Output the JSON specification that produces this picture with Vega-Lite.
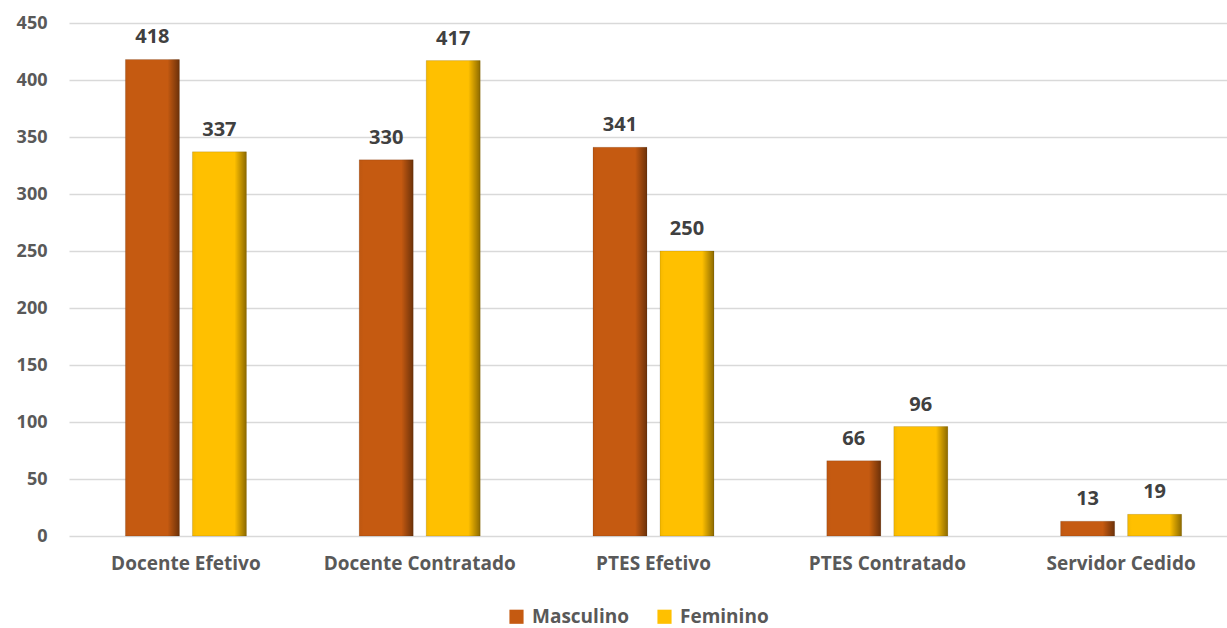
{
  "$schema": "https://vega.github.io/schema/vega-lite/v6.json",
  "width": 1169,
  "height": 513,
  "autosize": {"type": "none"},
  "padding": {"left": 69, "top": 23, "right": 0, "bottom": 92},
  "background": "white",
  "config": {
    "font": "Open Sans",
    "view": {"stroke": null}
  },
  "data": {
    "values": [
      {"cat": "Docente Efetivo", "sexo": "Masculino", "valor": 418},
      {"cat": "Docente Efetivo", "sexo": "Feminino", "valor": 337},
      {"cat": "Docente Contratado", "sexo": "Masculino", "valor": 330},
      {"cat": "Docente Contratado", "sexo": "Feminino", "valor": 417},
      {"cat": "PTES Efetivo", "sexo": "Masculino", "valor": 341},
      {"cat": "PTES Efetivo", "sexo": "Feminino", "valor": 250},
      {"cat": "PTES  Contratado", "sexo": "Masculino", "valor": 66},
      {"cat": "PTES  Contratado", "sexo": "Feminino", "valor": 96},
      {"cat": "Servidor Cedido", "sexo": "Masculino", "valor": 13},
      {"cat": "Servidor Cedido", "sexo": "Feminino", "valor": 19}
    ]
  },
  "encoding": {
    "x": {
      "field": "cat",
      "type": "nominal",
      "sort": ["Docente Efetivo", "Docente Contratado", "PTES Efetivo", "PTES  Contratado", "Servidor Cedido"],
      "scale": {"paddingInner": 0.4824, "paddingOuter": 0.2412},
      "axis": {
        "title": null,
        "labelAngle": 0,
        "labelFont": "Open Sans",
        "labelFontSize": 19,
        "labelFontWeight": "bold",
        "labelColor": "#595959",
        "labelPadding": 18,
        "labelLimit": 0,
        "ticks": false,
        "domain": false,
        "grid": false
      }
    },
    "xOffset": {
      "field": "sexo",
      "type": "nominal",
      "sort": ["Masculino", "Feminino"],
      "scale": {"paddingInner": 0.194, "paddingOuter": 0}
    },
    "y": {
      "field": "valor",
      "type": "quantitative",
      "scale": {"domain": [0, 450], "nice": false},
      "axis": {
        "title": null,
        "values": [0, 50, 100, 150, 200, 250, 300, 350, 400, 450],
        "labelFont": "Open Sans",
        "labelFontSize": 18,
        "labelFontWeight": "bold",
        "labelColor": "#595959",
        "labelPadding": 22,
        "ticks": false,
        "domain": false,
        "grid": true,
        "gridColor": "#D9D9D9",
        "gridWidth": 1.5
      }
    }
  },
  "layer": [
    {
      "mark": {"type": "bar"},
      "encoding": {
        "color": {
          "field": "sexo",
          "type": "nominal",
          "sort": ["Masculino", "Feminino"],
          "scale": {"domain": ["Masculino", "Feminino"], "range": ["#C55A11", "#FFC000"]},
          "legend": {
            "title": null,
            "orient": "none",
            "direction": "horizontal",
            "legendX": 438,
            "legendY": 584,
            "symbolType": "square",
            "symbolSize": 200,
            "symbolStrokeWidth": 0,
            "labelFont": "Open Sans",
            "labelFontSize": 19,
            "labelFontWeight": "bold",
            "labelColor": "#595959",
            "labelOffset": 6,
            "labelLimit": 0,
            "columnPadding": 26
          }
        }
      }
    },
    {
      "mark": {
        "type": "bar",
        "fill": {
          "gradient": "linear",
          "x1": 0, "y1": 0, "x2": 1, "y2": 0,
          "stops": [
            {"offset": 0, "color": "rgba(0,0,0,0.04)"},
            {"offset": 0.08, "color": "rgba(0,0,0,0)"},
            {"offset": 0.78, "color": "rgba(0,0,0,0)"},
            {"offset": 1, "color": "rgba(0,0,0,0.45)"}
          ]
        },
        "stroke": "rgba(0,0,0,0.12)",
        "strokeWidth": 1
      },
      "encoding": {}
    },
    {
      "mark": {
        "type": "text",
        "font": "Open Sans",
        "fontSize": 20,
        "fontWeight": "bold",
        "color": "#404040",
        "baseline": "alphabetic",
        "dy": -16
      },
      "encoding": {
        "text": {"field": "valor", "type": "quantitative"}
      }
    }
  ]
}
